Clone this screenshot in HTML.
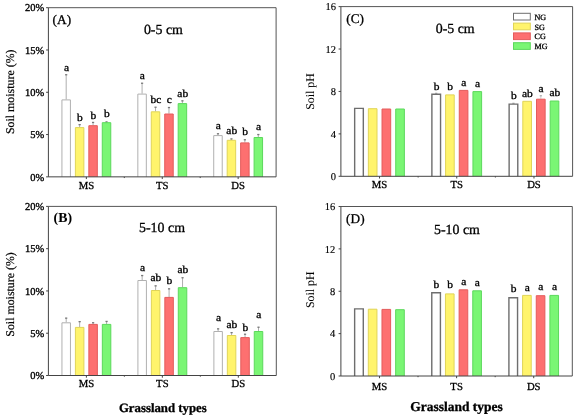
<!DOCTYPE html>
<html><head><meta charset="utf-8"><style>
html,body{margin:0;padding:0;background:#fff;}
svg{display:block;font-family:'Liberation Serif', serif;filter:blur(0.4px);}
</style></head><body>
<svg width="575" height="418" viewBox="0 0 575 418">
<rect width="575" height="418" fill="#fff"/>
<g fill="#000" stroke="#000" stroke-width="0.42">
<line x1="66.18" y1="99.50" x2="66.18" y2="74.40" stroke="#999999" stroke-width="0.8"/>
<rect x="65.08" y="74.10" width="2.2" height="1.3" fill="#7a7a7a" stroke="none"/>
<rect x="61.93" y="99.90" width="8.49" height="76.95" fill="#ffffff" stroke="none"/>
<path d="M61.93,176.85 V99.90 H70.42 V176.85" fill="none" stroke="#b0b0b0" stroke-width="1.0"/>
<text transform="translate(66.48,70.90) scale(1.08,1) skewX(0.05)" text-anchor="middle" font-size="10.6" stroke-width="0.32">a</text>
<line x1="79.63" y1="127.20" x2="79.63" y2="124.30" stroke="#999999" stroke-width="0.8"/>
<rect x="78.53" y="124.00" width="2.2" height="1.3" fill="#7a7a7a" stroke="none"/>
<rect x="75.38" y="127.60" width="8.49" height="49.25" fill="#fff46c" stroke="none"/>
<path d="M75.38,176.85 V127.60 H83.87 V176.85" fill="none" stroke="#e0d458" stroke-width="1.0"/>
<text transform="translate(79.93,120.60) scale(1.08,1) skewX(0.05)" text-anchor="middle" font-size="10.6" stroke-width="0.32">b</text>
<line x1="93.07" y1="125.30" x2="93.07" y2="122.10" stroke="#999999" stroke-width="0.8"/>
<rect x="91.97" y="121.80" width="2.2" height="1.3" fill="#7a7a7a" stroke="none"/>
<rect x="88.83" y="125.70" width="8.49" height="51.15" fill="#fd7070" stroke="none"/>
<path d="M88.83,176.85 V125.70 H97.32 V176.85" fill="none" stroke="#e45c5c" stroke-width="1.0"/>
<text transform="translate(93.37,118.50) scale(1.08,1) skewX(0.05)" text-anchor="middle" font-size="10.6" stroke-width="0.32">b</text>
<line x1="106.52" y1="122.30" x2="106.52" y2="121.60" stroke="#999999" stroke-width="0.8"/>
<rect x="105.42" y="121.30" width="2.2" height="1.3" fill="#7a7a7a" stroke="none"/>
<rect x="102.28" y="122.70" width="8.49" height="54.15" fill="#7af674" stroke="none"/>
<path d="M102.28,176.85 V122.70 H110.77 V176.85" fill="none" stroke="#5cd85c" stroke-width="1.0"/>
<text transform="translate(106.82,116.80) scale(1.08,1) skewX(0.05)" text-anchor="middle" font-size="10.6" stroke-width="0.32">b</text>
<line x1="142.08" y1="93.70" x2="142.08" y2="82.90" stroke="#999999" stroke-width="0.8"/>
<rect x="140.98" y="82.60" width="2.2" height="1.3" fill="#7a7a7a" stroke="none"/>
<rect x="137.83" y="94.10" width="8.49" height="82.75" fill="#ffffff" stroke="none"/>
<path d="M137.83,176.85 V94.10 H146.32 V176.85" fill="none" stroke="#b0b0b0" stroke-width="1.0"/>
<text transform="translate(142.38,79.10) scale(1.08,1) skewX(0.05)" text-anchor="middle" font-size="10.6" stroke-width="0.32">a</text>
<line x1="155.53" y1="111.40" x2="155.53" y2="106.90" stroke="#999999" stroke-width="0.8"/>
<rect x="154.43" y="106.60" width="2.2" height="1.3" fill="#7a7a7a" stroke="none"/>
<rect x="151.28" y="111.80" width="8.49" height="65.05" fill="#fff46c" stroke="none"/>
<path d="M151.28,176.85 V111.80 H159.77 V176.85" fill="none" stroke="#e0d458" stroke-width="1.0"/>
<text transform="translate(155.83,102.80) scale(1.08,1) skewX(0.05)" text-anchor="middle" font-size="10.6" stroke-width="0.32">bc</text>
<line x1="168.97" y1="113.60" x2="168.97" y2="107.20" stroke="#999999" stroke-width="0.8"/>
<rect x="167.87" y="106.90" width="2.2" height="1.3" fill="#7a7a7a" stroke="none"/>
<rect x="164.73" y="114.00" width="8.49" height="62.85" fill="#fd7070" stroke="none"/>
<path d="M164.73,176.85 V114.00 H173.22 V176.85" fill="none" stroke="#e45c5c" stroke-width="1.0"/>
<text transform="translate(169.27,102.80) scale(1.08,1) skewX(0.05)" text-anchor="middle" font-size="10.6" stroke-width="0.32">c</text>
<line x1="182.42" y1="103.20" x2="182.42" y2="100.50" stroke="#999999" stroke-width="0.8"/>
<rect x="181.32" y="100.20" width="2.2" height="1.3" fill="#7a7a7a" stroke="none"/>
<rect x="178.18" y="103.60" width="8.49" height="73.25" fill="#7af674" stroke="none"/>
<path d="M178.18,176.85 V103.60 H186.67 V176.85" fill="none" stroke="#5cd85c" stroke-width="1.0"/>
<text transform="translate(182.72,96.60) scale(1.08,1) skewX(0.05)" text-anchor="middle" font-size="10.6" stroke-width="0.32">ab</text>
<line x1="217.98" y1="135.20" x2="217.98" y2="133.40" stroke="#999999" stroke-width="0.8"/>
<rect x="216.88" y="133.10" width="2.2" height="1.3" fill="#7a7a7a" stroke="none"/>
<rect x="213.73" y="135.60" width="8.49" height="41.25" fill="#ffffff" stroke="none"/>
<path d="M213.73,176.85 V135.60 H222.22 V176.85" fill="none" stroke="#b0b0b0" stroke-width="1.0"/>
<text transform="translate(218.28,129.20) scale(1.08,1) skewX(0.05)" text-anchor="middle" font-size="10.6" stroke-width="0.32">a</text>
<line x1="231.43" y1="139.90" x2="231.43" y2="138.60" stroke="#999999" stroke-width="0.8"/>
<rect x="230.33" y="138.30" width="2.2" height="1.3" fill="#7a7a7a" stroke="none"/>
<rect x="227.18" y="140.30" width="8.49" height="36.55" fill="#fff46c" stroke="none"/>
<path d="M227.18,176.85 V140.30 H235.67 V176.85" fill="none" stroke="#e0d458" stroke-width="1.0"/>
<text transform="translate(231.73,134.40) scale(1.08,1) skewX(0.05)" text-anchor="middle" font-size="10.6" stroke-width="0.32">ab</text>
<line x1="244.87" y1="142.50" x2="244.87" y2="139.40" stroke="#999999" stroke-width="0.8"/>
<rect x="243.77" y="139.10" width="2.2" height="1.3" fill="#7a7a7a" stroke="none"/>
<rect x="240.63" y="142.90" width="8.49" height="33.95" fill="#fd7070" stroke="none"/>
<path d="M240.63,176.85 V142.90 H249.12 V176.85" fill="none" stroke="#e45c5c" stroke-width="1.0"/>
<text transform="translate(245.17,135.10) scale(1.08,1) skewX(0.05)" text-anchor="middle" font-size="10.6" stroke-width="0.32">b</text>
<line x1="258.32" y1="137.10" x2="258.32" y2="134.20" stroke="#999999" stroke-width="0.8"/>
<rect x="257.22" y="133.90" width="2.2" height="1.3" fill="#7a7a7a" stroke="none"/>
<rect x="254.08" y="137.50" width="8.49" height="39.35" fill="#7af674" stroke="none"/>
<path d="M254.08,176.85 V137.50 H262.57 V176.85" fill="none" stroke="#5cd85c" stroke-width="1.0"/>
<text transform="translate(258.62,129.60) scale(1.08,1) skewX(0.05)" text-anchor="middle" font-size="10.6" stroke-width="0.32">a</text>
<path d="M48.4,7.7 H276.1 V176.85" fill="none" stroke="#555" stroke-width="1"/>
<path d="M48.4,7.7 V176.85 H276.1" fill="none" stroke="#444444" stroke-width="1"/>
<line x1="46.1" y1="176.85" x2="48.4" y2="176.85" stroke="#444444" stroke-width="1"/>
<text transform="translate(44.30,180.55) skewX(0.05)" text-anchor="end" font-size="10.5" stroke-width="0.35">0%</text>
<line x1="46.1" y1="134.56" x2="48.4" y2="134.56" stroke="#444444" stroke-width="1"/>
<text transform="translate(44.30,138.26) skewX(0.05)" text-anchor="end" font-size="10.5" stroke-width="0.35">5%</text>
<line x1="46.1" y1="92.27" x2="48.4" y2="92.27" stroke="#444444" stroke-width="1"/>
<text transform="translate(44.30,95.97) skewX(0.05)" text-anchor="end" font-size="10.5" stroke-width="0.35">10%</text>
<line x1="46.1" y1="49.99" x2="48.4" y2="49.99" stroke="#444444" stroke-width="1"/>
<text transform="translate(44.30,53.69) skewX(0.05)" text-anchor="end" font-size="10.5" stroke-width="0.35">15%</text>
<line x1="46.1" y1="7.70" x2="48.4" y2="7.70" stroke="#444444" stroke-width="1"/>
<text transform="translate(44.30,11.40) skewX(0.05)" text-anchor="end" font-size="10.5" stroke-width="0.35">20%</text>
<line x1="86.35" y1="176.85" x2="86.35" y2="179.04999999999998" stroke="#444444" stroke-width="1"/>
<line x1="162.25" y1="176.85" x2="162.25" y2="179.04999999999998" stroke="#444444" stroke-width="1"/>
<line x1="238.15" y1="176.85" x2="238.15" y2="179.04999999999998" stroke="#444444" stroke-width="1"/>
<line x1="124.30" y1="176.85" x2="124.30" y2="178.04999999999998" stroke="#444444" stroke-width="1"/>
<line x1="200.20" y1="176.85" x2="200.20" y2="178.04999999999998" stroke="#444444" stroke-width="1"/>
<text transform="translate(86.35,189.15) skewX(0.05)" text-anchor="middle" font-size="10.7" stroke-width="0.3">MS</text>
<text transform="translate(162.25,189.15) skewX(0.05)" text-anchor="middle" font-size="10.7" stroke-width="0.3">TS</text>
<text transform="translate(238.15,189.15) skewX(0.05)" text-anchor="middle" font-size="10.7" stroke-width="0.3">DS</text>
<text transform="translate(52.6,24.2) skewX(0.05)" font-size="13.3" stroke-width="0.3">(A)</text>
<text transform="translate(163.4,34.40) skewX(0.05)" text-anchor="middle" font-size="13.9" stroke-width="0.3">0-5 cm</text>
<text transform="translate(14.2,91.77) rotate(-90) skewX(0.05)" text-anchor="middle" font-size="11.9" stroke-width="0.2">Soil moisture (%)</text>
<line x1="66.19" y1="322.40" x2="66.19" y2="317.80" stroke="#999999" stroke-width="0.8"/>
<rect x="65.09" y="317.50" width="2.2" height="1.3" fill="#7a7a7a" stroke="none"/>
<rect x="61.94" y="322.80" width="8.50" height="52.70" fill="#ffffff" stroke="none"/>
<path d="M61.94,375.50 V322.80 H70.44 V375.50" fill="none" stroke="#b0b0b0" stroke-width="1.0"/>
<line x1="79.65" y1="327.00" x2="79.65" y2="321.30" stroke="#999999" stroke-width="0.8"/>
<rect x="78.55" y="321.00" width="2.2" height="1.3" fill="#7a7a7a" stroke="none"/>
<rect x="75.40" y="327.40" width="8.50" height="48.10" fill="#fff46c" stroke="none"/>
<path d="M75.40,375.50 V327.40 H83.90 V375.50" fill="none" stroke="#e0d458" stroke-width="1.0"/>
<line x1="93.11" y1="324.00" x2="93.11" y2="322.40" stroke="#999999" stroke-width="0.8"/>
<rect x="92.01" y="322.10" width="2.2" height="1.3" fill="#7a7a7a" stroke="none"/>
<rect x="88.87" y="324.40" width="8.50" height="51.10" fill="#fd7070" stroke="none"/>
<path d="M88.87,375.50 V324.40 H97.36 V375.50" fill="none" stroke="#e45c5c" stroke-width="1.0"/>
<line x1="106.58" y1="324.00" x2="106.58" y2="321.10" stroke="#999999" stroke-width="0.8"/>
<rect x="105.48" y="320.80" width="2.2" height="1.3" fill="#7a7a7a" stroke="none"/>
<rect x="102.33" y="324.40" width="8.50" height="51.10" fill="#7af674" stroke="none"/>
<path d="M102.33,375.50 V324.40 H110.82 V375.50" fill="none" stroke="#5cd85c" stroke-width="1.0"/>
<line x1="142.16" y1="280.10" x2="142.16" y2="275.20" stroke="#999999" stroke-width="0.8"/>
<rect x="141.06" y="274.90" width="2.2" height="1.3" fill="#7a7a7a" stroke="none"/>
<rect x="137.91" y="280.50" width="8.50" height="95.00" fill="#ffffff" stroke="none"/>
<path d="M137.91,375.50 V280.50 H146.41 V375.50" fill="none" stroke="#b0b0b0" stroke-width="1.0"/>
<text transform="translate(142.46,271.20) scale(1.08,1) skewX(0.05)" text-anchor="middle" font-size="10.6" stroke-width="0.32">a</text>
<line x1="155.62" y1="290.10" x2="155.62" y2="285.50" stroke="#999999" stroke-width="0.8"/>
<rect x="154.52" y="285.20" width="2.2" height="1.3" fill="#7a7a7a" stroke="none"/>
<rect x="151.37" y="290.50" width="8.50" height="85.00" fill="#fff46c" stroke="none"/>
<path d="M151.37,375.50 V290.50 H159.87 V375.50" fill="none" stroke="#e0d458" stroke-width="1.0"/>
<text transform="translate(155.92,281.40) scale(1.08,1) skewX(0.05)" text-anchor="middle" font-size="10.6" stroke-width="0.32">ab</text>
<line x1="169.08" y1="297.00" x2="169.08" y2="288.50" stroke="#999999" stroke-width="0.8"/>
<rect x="167.98" y="288.20" width="2.2" height="1.3" fill="#7a7a7a" stroke="none"/>
<rect x="164.83" y="297.40" width="8.50" height="78.10" fill="#fd7070" stroke="none"/>
<path d="M164.83,375.50 V297.40 H173.33 V375.50" fill="none" stroke="#e45c5c" stroke-width="1.0"/>
<text transform="translate(169.38,284.30) scale(1.08,1) skewX(0.05)" text-anchor="middle" font-size="10.6" stroke-width="0.32">b</text>
<line x1="182.54" y1="287.30" x2="182.54" y2="277.40" stroke="#999999" stroke-width="0.8"/>
<rect x="181.44" y="277.10" width="2.2" height="1.3" fill="#7a7a7a" stroke="none"/>
<rect x="178.29" y="287.70" width="8.50" height="87.80" fill="#7af674" stroke="none"/>
<path d="M178.29,375.50 V287.70 H186.79 V375.50" fill="none" stroke="#5cd85c" stroke-width="1.0"/>
<text transform="translate(182.84,273.00) scale(1.08,1) skewX(0.05)" text-anchor="middle" font-size="10.6" stroke-width="0.32">ab</text>
<line x1="218.12" y1="331.10" x2="218.12" y2="328.50" stroke="#999999" stroke-width="0.8"/>
<rect x="217.02" y="328.20" width="2.2" height="1.3" fill="#7a7a7a" stroke="none"/>
<rect x="213.88" y="331.50" width="8.50" height="44.00" fill="#ffffff" stroke="none"/>
<path d="M213.88,375.50 V331.50 H222.37 V375.50" fill="none" stroke="#b0b0b0" stroke-width="1.0"/>
<text transform="translate(218.42,321.10) scale(1.08,1) skewX(0.05)" text-anchor="middle" font-size="10.6" stroke-width="0.32">a</text>
<line x1="231.59" y1="335.10" x2="231.59" y2="332.30" stroke="#999999" stroke-width="0.8"/>
<rect x="230.49" y="332.00" width="2.2" height="1.3" fill="#7a7a7a" stroke="none"/>
<rect x="227.34" y="335.50" width="8.50" height="40.00" fill="#fff46c" stroke="none"/>
<path d="M227.34,375.50 V335.50 H235.83 V375.50" fill="none" stroke="#e0d458" stroke-width="1.0"/>
<text transform="translate(231.89,327.70) scale(1.08,1) skewX(0.05)" text-anchor="middle" font-size="10.6" stroke-width="0.32">ab</text>
<line x1="245.05" y1="337.20" x2="245.05" y2="333.90" stroke="#999999" stroke-width="0.8"/>
<rect x="243.95" y="333.60" width="2.2" height="1.3" fill="#7a7a7a" stroke="none"/>
<rect x="240.80" y="337.60" width="8.50" height="37.90" fill="#fd7070" stroke="none"/>
<path d="M240.80,375.50 V337.60 H249.30 V375.50" fill="none" stroke="#e45c5c" stroke-width="1.0"/>
<text transform="translate(245.35,331.00) scale(1.08,1) skewX(0.05)" text-anchor="middle" font-size="10.6" stroke-width="0.32">b</text>
<line x1="258.51" y1="331.10" x2="258.51" y2="326.90" stroke="#999999" stroke-width="0.8"/>
<rect x="257.41" y="326.60" width="2.2" height="1.3" fill="#7a7a7a" stroke="none"/>
<rect x="254.26" y="331.50" width="8.50" height="44.00" fill="#7af674" stroke="none"/>
<path d="M254.26,375.50 V331.50 H262.76 V375.50" fill="none" stroke="#5cd85c" stroke-width="1.0"/>
<text transform="translate(258.81,317.90) scale(1.08,1) skewX(0.05)" text-anchor="middle" font-size="10.6" stroke-width="0.32">a</text>
<path d="M48.4,206.4 H276.3 V375.5" fill="none" stroke="#555" stroke-width="1"/>
<path d="M48.4,206.4 V375.5 H276.3" fill="none" stroke="#444444" stroke-width="1"/>
<line x1="46.1" y1="375.50" x2="48.4" y2="375.50" stroke="#444444" stroke-width="1"/>
<text transform="translate(44.30,379.20) skewX(0.05)" text-anchor="end" font-size="10.5" stroke-width="0.35">0%</text>
<line x1="46.1" y1="333.23" x2="48.4" y2="333.23" stroke="#444444" stroke-width="1"/>
<text transform="translate(44.30,336.93) skewX(0.05)" text-anchor="end" font-size="10.5" stroke-width="0.35">5%</text>
<line x1="46.1" y1="290.95" x2="48.4" y2="290.95" stroke="#444444" stroke-width="1"/>
<text transform="translate(44.30,294.65) skewX(0.05)" text-anchor="end" font-size="10.5" stroke-width="0.35">10%</text>
<line x1="46.1" y1="248.68" x2="48.4" y2="248.68" stroke="#444444" stroke-width="1"/>
<text transform="translate(44.30,252.38) skewX(0.05)" text-anchor="end" font-size="10.5" stroke-width="0.35">15%</text>
<line x1="46.1" y1="206.40" x2="48.4" y2="206.40" stroke="#444444" stroke-width="1"/>
<text transform="translate(44.30,210.10) skewX(0.05)" text-anchor="end" font-size="10.5" stroke-width="0.35">20%</text>
<line x1="86.38" y1="375.5" x2="86.38" y2="377.7" stroke="#444444" stroke-width="1"/>
<line x1="162.35" y1="375.5" x2="162.35" y2="377.7" stroke="#444444" stroke-width="1"/>
<line x1="238.32" y1="375.5" x2="238.32" y2="377.7" stroke="#444444" stroke-width="1"/>
<line x1="124.37" y1="375.5" x2="124.37" y2="376.7" stroke="#444444" stroke-width="1"/>
<line x1="200.33" y1="375.5" x2="200.33" y2="376.7" stroke="#444444" stroke-width="1"/>
<text transform="translate(86.38,387.20) skewX(0.05)" text-anchor="middle" font-size="10.7" stroke-width="0.3">MS</text>
<text transform="translate(162.35,387.20) skewX(0.05)" text-anchor="middle" font-size="10.7" stroke-width="0.3">TS</text>
<text transform="translate(238.32,387.20) skewX(0.05)" text-anchor="middle" font-size="10.7" stroke-width="0.3">DS</text>
<text transform="translate(53.6,222.2) skewX(0.05)" font-size="13.8" stroke-width="0.05" font-weight="bold">(B)</text>
<text transform="translate(162.0,232.00) skewX(0.05)" text-anchor="middle" font-size="13.9" stroke-width="0.3">5-10 cm</text>
<text transform="translate(14.2,294.45) rotate(-90) skewX(0.05)" text-anchor="middle" font-size="11.9" stroke-width="0.2">Soil moisture (%)</text>
<text transform="translate(162.8,412.0) skewX(0.05)" text-anchor="middle" font-size="12.8" stroke-width="0.3" font-weight="bold">Grassland types</text>
<rect x="354.66" y="108.40" width="8.65" height="67.90" fill="#ffffff" stroke="none"/>
<path d="M354.66,176.30 V108.40 H363.32 V176.30" fill="none" stroke="#6e6e6e" stroke-width="1.4"/>
<rect x="368.35" y="108.70" width="8.65" height="67.60" fill="#fff46c" stroke="none"/>
<path d="M368.35,176.30 V108.70 H377.00 V176.30" fill="none" stroke="#e0d458" stroke-width="1.0"/>
<rect x="382.03" y="109.00" width="8.65" height="67.30" fill="#fd7070" stroke="none"/>
<path d="M382.03,176.30 V109.00 H390.69 V176.30" fill="none" stroke="#e45c5c" stroke-width="1.0"/>
<rect x="395.72" y="109.00" width="8.65" height="67.30" fill="#7af674" stroke="none"/>
<path d="M395.72,176.30 V109.00 H404.37 V176.30" fill="none" stroke="#5cd85c" stroke-width="1.0"/>
<line x1="436.22" y1="93.80" x2="436.22" y2="93.00" stroke="#c4c4c4" stroke-width="0.8"/>
<rect x="435.12" y="92.70" width="2.2" height="1.3" fill="#b0b0b0" stroke="none"/>
<rect x="431.89" y="94.20" width="8.65" height="82.10" fill="#ffffff" stroke="none"/>
<path d="M431.89,176.30 V94.20 H440.55 V176.30" fill="none" stroke="#6e6e6e" stroke-width="1.4"/>
<text transform="translate(436.52,89.90) scale(1.08,1) skewX(0.05)" text-anchor="middle" font-size="10.6" stroke-width="0.32">b</text>
<rect x="445.58" y="94.90" width="8.65" height="81.40" fill="#fff46c" stroke="none"/>
<path d="M445.58,176.30 V94.90 H454.23 V176.30" fill="none" stroke="#e0d458" stroke-width="1.0"/>
<text transform="translate(450.21,89.90) scale(1.08,1) skewX(0.05)" text-anchor="middle" font-size="10.6" stroke-width="0.32">b</text>
<rect x="459.27" y="90.40" width="8.65" height="85.90" fill="#fd7070" stroke="none"/>
<path d="M459.27,176.30 V90.40 H467.92 V176.30" fill="none" stroke="#e45c5c" stroke-width="1.0"/>
<text transform="translate(463.89,85.60) scale(1.08,1) skewX(0.05)" text-anchor="middle" font-size="10.6" stroke-width="0.32">a</text>
<rect x="472.95" y="91.60" width="8.65" height="84.70" fill="#7af674" stroke="none"/>
<path d="M472.95,176.30 V91.60 H481.61 V176.30" fill="none" stroke="#5cd85c" stroke-width="1.0"/>
<text transform="translate(477.58,86.60) scale(1.08,1) skewX(0.05)" text-anchor="middle" font-size="10.6" stroke-width="0.32">a</text>
<line x1="513.45" y1="103.70" x2="513.45" y2="103.00" stroke="#c4c4c4" stroke-width="0.8"/>
<rect x="512.35" y="102.70" width="2.2" height="1.3" fill="#b0b0b0" stroke="none"/>
<rect x="509.13" y="104.10" width="8.65" height="72.20" fill="#ffffff" stroke="none"/>
<path d="M509.13,176.30 V104.10 H517.78 V176.30" fill="none" stroke="#6e6e6e" stroke-width="1.4"/>
<text transform="translate(513.75,99.40) scale(1.08,1) skewX(0.05)" text-anchor="middle" font-size="10.6" stroke-width="0.32">b</text>
<rect x="522.81" y="101.30" width="8.65" height="75.00" fill="#fff46c" stroke="none"/>
<path d="M522.81,176.30 V101.30 H531.47 V176.30" fill="none" stroke="#e0d458" stroke-width="1.0"/>
<text transform="translate(527.44,96.80) scale(1.08,1) skewX(0.05)" text-anchor="middle" font-size="10.6" stroke-width="0.32">ab</text>
<line x1="540.83" y1="98.80" x2="540.83" y2="95.40" stroke="#c4c4c4" stroke-width="0.8"/>
<rect x="539.73" y="95.10" width="2.2" height="1.3" fill="#b0b0b0" stroke="none"/>
<rect x="536.50" y="99.20" width="8.65" height="77.10" fill="#fd7070" stroke="none"/>
<path d="M536.50,176.30 V99.20 H545.15 V176.30" fill="none" stroke="#e45c5c" stroke-width="1.0"/>
<text transform="translate(541.13,91.60) scale(1.08,1) skewX(0.05)" text-anchor="middle" font-size="10.6" stroke-width="0.32">a</text>
<rect x="550.18" y="101.00" width="8.65" height="75.30" fill="#7af674" stroke="none"/>
<path d="M550.18,176.30 V101.00 H558.84 V176.30" fill="none" stroke="#5cd85c" stroke-width="1.0"/>
<text transform="translate(554.81,95.80) scale(1.08,1) skewX(0.05)" text-anchor="middle" font-size="10.6" stroke-width="0.32">ab</text>
<path d="M340.9,6.6 H572.6 V176.3" fill="none" stroke="#555" stroke-width="1"/>
<path d="M340.9,6.6 V176.3 H572.6" fill="none" stroke="#444444" stroke-width="1"/>
<line x1="338.59999999999997" y1="176.30" x2="340.9" y2="176.30" stroke="#444444" stroke-width="1"/>
<text transform="translate(335.90,180.00) skewX(0.05)" text-anchor="end" font-size="10.5" stroke-width="0.15">0</text>
<line x1="338.59999999999997" y1="133.88" x2="340.9" y2="133.88" stroke="#444444" stroke-width="1"/>
<text transform="translate(335.90,137.57) skewX(0.05)" text-anchor="end" font-size="10.5" stroke-width="0.15">4</text>
<line x1="338.59999999999997" y1="91.45" x2="340.9" y2="91.45" stroke="#444444" stroke-width="1"/>
<text transform="translate(335.90,95.15) skewX(0.05)" text-anchor="end" font-size="10.5" stroke-width="0.15">8</text>
<line x1="338.59999999999997" y1="49.03" x2="340.9" y2="49.03" stroke="#444444" stroke-width="1"/>
<text transform="translate(335.90,52.73) skewX(0.05)" text-anchor="end" font-size="10.5" stroke-width="0.15">12</text>
<line x1="338.59999999999997" y1="6.60" x2="340.9" y2="6.60" stroke="#444444" stroke-width="1"/>
<text transform="translate(335.90,10.30) skewX(0.05)" text-anchor="end" font-size="10.5" stroke-width="0.15">16</text>
<line x1="379.52" y1="176.3" x2="379.52" y2="178.5" stroke="#444444" stroke-width="1"/>
<line x1="456.75" y1="176.3" x2="456.75" y2="178.5" stroke="#444444" stroke-width="1"/>
<line x1="533.98" y1="176.3" x2="533.98" y2="178.5" stroke="#444444" stroke-width="1"/>
<line x1="418.13" y1="176.3" x2="418.13" y2="177.5" stroke="#444444" stroke-width="1"/>
<line x1="495.37" y1="176.3" x2="495.37" y2="177.5" stroke="#444444" stroke-width="1"/>
<text transform="translate(379.52,187.90) skewX(0.05)" text-anchor="middle" font-size="10.7" stroke-width="0.3">MS</text>
<text transform="translate(456.75,187.90) skewX(0.05)" text-anchor="middle" font-size="10.7" stroke-width="0.3">TS</text>
<text transform="translate(533.98,187.90) skewX(0.05)" text-anchor="middle" font-size="10.7" stroke-width="0.3">DS</text>
<text transform="translate(346.3,23.4) skewX(0.05)" font-size="13.3" stroke-width="0.3">(C)</text>
<text transform="translate(455.2,33.20) skewX(0.05)" text-anchor="middle" font-size="13.9" stroke-width="0.3">0-5 cm</text>
<text transform="translate(314.2,91.45) rotate(-90) skewX(0.05)" text-anchor="middle" font-size="11.9" stroke-width="0.05">Soil pH</text>
<rect x="513.5" y="13.30" width="16.8" height="6.7" fill="#ffffff" stroke="#6e6e6e" stroke-width="1"/>
<text transform="translate(534.5,19.70) skewX(0.05)" font-size="8.1" stroke-width="0.3">NG</text>
<rect x="513.5" y="23.10" width="16.8" height="6.7" fill="#fff46c" stroke="#e0d458" stroke-width="1"/>
<text transform="translate(534.5,29.50) skewX(0.05)" font-size="8.1" stroke-width="0.3">SG</text>
<rect x="513.5" y="32.90" width="16.8" height="6.7" fill="#fd7070" stroke="#e45c5c" stroke-width="1"/>
<text transform="translate(534.5,39.30) skewX(0.05)" font-size="8.1" stroke-width="0.3">CG</text>
<rect x="513.5" y="42.70" width="16.8" height="6.7" fill="#7af674" stroke="#5cd85c" stroke-width="1"/>
<text transform="translate(534.5,49.10) skewX(0.05)" font-size="8.1" stroke-width="0.3">MG</text>
<rect x="354.64" y="308.90" width="8.64" height="67.10" fill="#ffffff" stroke="none"/>
<path d="M354.64,376.00 V308.90 H363.29 V376.00" fill="none" stroke="#6e6e6e" stroke-width="1.4"/>
<rect x="368.31" y="309.20" width="8.64" height="66.80" fill="#fff46c" stroke="none"/>
<path d="M368.31,376.00 V309.20 H376.95 V376.00" fill="none" stroke="#e0d458" stroke-width="1.0"/>
<rect x="381.98" y="309.40" width="8.64" height="66.60" fill="#fd7070" stroke="none"/>
<path d="M381.98,376.00 V309.40 H390.62 V376.00" fill="none" stroke="#e45c5c" stroke-width="1.0"/>
<rect x="395.65" y="309.70" width="8.64" height="66.30" fill="#7af674" stroke="none"/>
<path d="M395.65,376.00 V309.70 H404.29 V376.00" fill="none" stroke="#5cd85c" stroke-width="1.0"/>
<rect x="431.78" y="292.80" width="8.64" height="83.20" fill="#ffffff" stroke="none"/>
<path d="M431.78,376.00 V292.80 H440.42 V376.00" fill="none" stroke="#6e6e6e" stroke-width="1.4"/>
<text transform="translate(436.40,287.90) scale(1.08,1) skewX(0.05)" text-anchor="middle" font-size="10.6" stroke-width="0.32">b</text>
<rect x="445.45" y="293.90" width="8.64" height="82.10" fill="#fff46c" stroke="none"/>
<path d="M445.45,376.00 V293.90 H454.09 V376.00" fill="none" stroke="#e0d458" stroke-width="1.0"/>
<text transform="translate(450.07,288.20) scale(1.08,1) skewX(0.05)" text-anchor="middle" font-size="10.6" stroke-width="0.32">b</text>
<rect x="459.11" y="289.80" width="8.64" height="86.20" fill="#fd7070" stroke="none"/>
<path d="M459.11,376.00 V289.80 H467.75 V376.00" fill="none" stroke="#e45c5c" stroke-width="1.0"/>
<text transform="translate(463.73,284.70) scale(1.08,1) skewX(0.05)" text-anchor="middle" font-size="10.6" stroke-width="0.32">a</text>
<rect x="472.78" y="290.80" width="8.64" height="85.20" fill="#7af674" stroke="none"/>
<path d="M472.78,376.00 V290.80 H481.42 V376.00" fill="none" stroke="#5cd85c" stroke-width="1.0"/>
<text transform="translate(477.40,285.80) scale(1.08,1) skewX(0.05)" text-anchor="middle" font-size="10.6" stroke-width="0.32">a</text>
<rect x="508.91" y="297.70" width="8.64" height="78.30" fill="#ffffff" stroke="none"/>
<path d="M508.91,376.00 V297.70 H517.55 V376.00" fill="none" stroke="#6e6e6e" stroke-width="1.4"/>
<text transform="translate(513.53,292.00) scale(1.08,1) skewX(0.05)" text-anchor="middle" font-size="10.6" stroke-width="0.32">b</text>
<rect x="522.58" y="295.40" width="8.64" height="80.60" fill="#fff46c" stroke="none"/>
<path d="M522.58,376.00 V295.40 H531.22 V376.00" fill="none" stroke="#e0d458" stroke-width="1.0"/>
<text transform="translate(527.20,290.80) scale(1.08,1) skewX(0.05)" text-anchor="middle" font-size="10.6" stroke-width="0.32">a</text>
<rect x="536.25" y="295.70" width="8.64" height="80.30" fill="#fd7070" stroke="none"/>
<path d="M536.25,376.00 V295.70 H544.89 V376.00" fill="none" stroke="#e45c5c" stroke-width="1.0"/>
<text transform="translate(540.87,289.90) scale(1.08,1) skewX(0.05)" text-anchor="middle" font-size="10.6" stroke-width="0.32">a</text>
<rect x="549.91" y="295.40" width="8.64" height="80.60" fill="#7af674" stroke="none"/>
<path d="M549.91,376.00 V295.40 H558.56 V376.00" fill="none" stroke="#5cd85c" stroke-width="1.0"/>
<text transform="translate(554.54,289.90) scale(1.08,1) skewX(0.05)" text-anchor="middle" font-size="10.6" stroke-width="0.32">a</text>
<path d="M340.9,206.5 H572.3 V376.0" fill="none" stroke="#555" stroke-width="1"/>
<path d="M340.9,206.5 V376.0 H572.3" fill="none" stroke="#444444" stroke-width="1"/>
<line x1="338.59999999999997" y1="376.00" x2="340.9" y2="376.00" stroke="#444444" stroke-width="1"/>
<text transform="translate(335.30,379.70) skewX(0.05)" text-anchor="end" font-size="10.5" stroke-width="0.15">0</text>
<line x1="338.59999999999997" y1="333.62" x2="340.9" y2="333.62" stroke="#444444" stroke-width="1"/>
<text transform="translate(335.30,337.32) skewX(0.05)" text-anchor="end" font-size="10.5" stroke-width="0.15">4</text>
<line x1="338.59999999999997" y1="291.25" x2="340.9" y2="291.25" stroke="#444444" stroke-width="1"/>
<text transform="translate(335.30,294.95) skewX(0.05)" text-anchor="end" font-size="10.5" stroke-width="0.15">8</text>
<line x1="338.59999999999997" y1="248.88" x2="340.9" y2="248.88" stroke="#444444" stroke-width="1"/>
<text transform="translate(335.30,252.57) skewX(0.05)" text-anchor="end" font-size="10.5" stroke-width="0.15">12</text>
<line x1="338.59999999999997" y1="206.50" x2="340.9" y2="206.50" stroke="#444444" stroke-width="1"/>
<text transform="translate(335.30,210.20) skewX(0.05)" text-anchor="end" font-size="10.5" stroke-width="0.15">16</text>
<line x1="379.47" y1="376.0" x2="379.47" y2="378.2" stroke="#444444" stroke-width="1"/>
<line x1="456.60" y1="376.0" x2="456.60" y2="378.2" stroke="#444444" stroke-width="1"/>
<line x1="533.73" y1="376.0" x2="533.73" y2="378.2" stroke="#444444" stroke-width="1"/>
<line x1="418.03" y1="376.0" x2="418.03" y2="377.2" stroke="#444444" stroke-width="1"/>
<line x1="495.17" y1="376.0" x2="495.17" y2="377.2" stroke="#444444" stroke-width="1"/>
<text transform="translate(379.47,389.70) skewX(0.05)" text-anchor="middle" font-size="10.7" stroke-width="0.3">MS</text>
<text transform="translate(456.60,389.70) skewX(0.05)" text-anchor="middle" font-size="10.7" stroke-width="0.3">TS</text>
<text transform="translate(533.73,389.70) skewX(0.05)" text-anchor="middle" font-size="10.7" stroke-width="0.3">DS</text>
<text transform="translate(346.1,223.0) skewX(0.05)" font-size="13.3" stroke-width="0.3">(D)</text>
<text transform="translate(456.9,233.50) skewX(0.05)" text-anchor="middle" font-size="13.9" stroke-width="0.3">5-10 cm</text>
<text transform="translate(314.2,289.75) rotate(-90) skewX(0.05)" text-anchor="middle" font-size="11.9" stroke-width="0.05">Soil pH</text>
<text transform="translate(456.55,410.9) skewX(0.05)" text-anchor="middle" font-size="13.5" stroke-width="0.3" font-weight="bold">Grassland types</text>
</g>
</svg>
</body></html>
